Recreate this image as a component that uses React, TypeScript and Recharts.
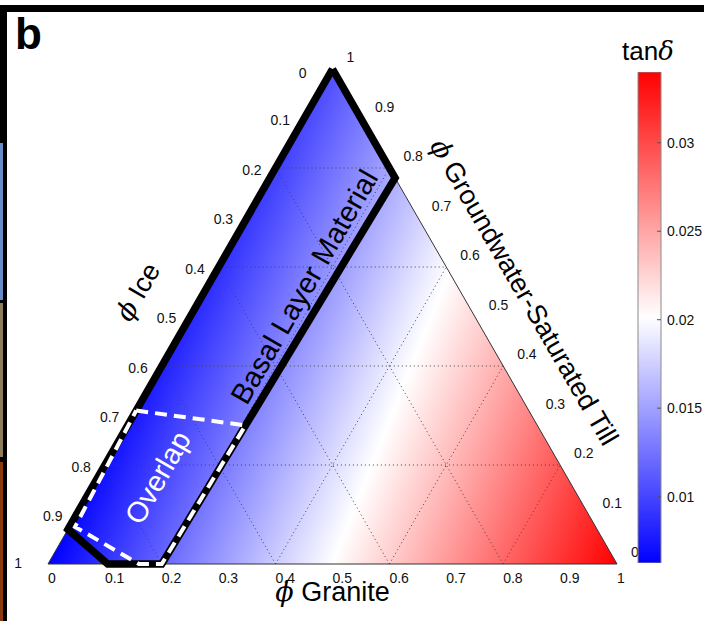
import React from "react";
import { ComposedChart, Area, Line, Scatter, XAxis, YAxis, BarChart, Bar } from "recharts";

// compositions are [ice, granite, till] volume fractions
type Comp = [number, number, number];

const tickValues = [0, 0.1, 0.2, 0.3, 0.4, 0.5, 0.6, 0.7, 0.8, 0.9, 1];
const gridLevels = [0.2, 0.4, 0.6, 0.8];

// tan(delta) of the pure end members: ice, granite, groundwater-saturated till
const endMemberTanDelta = [0.00625, 0.034, 0.0105];

const cbarRange: [number, number] = [0.00625, 0.034];
const cbarTicks = [0.01, 0.015, 0.02, 0.025, 0.03];

const triangle: Comp[] = [[1, 0, 0], [0, 0, 1], [0, 1, 0]];
const basalRegion: Comp[] = [
  [0, 0, 1],
  [0, 0.22, 0.78],
  [0.8, 0.2, 0],
  [0.895, 0.105, 0],
  [0.93, 0, 0.07],
  [0, 0, 1],
];
const overlapRegion: Comp[] = [
  [0.69, 0, 0.31],
  [0.513, 0.207, 0.28],
  [0.8, 0.2, 0],
  [0.84, 0.16, 0],
  [0.915, 0.01, 0.075],
  [0.69, 0, 0.31],
];
const basalLabel: Comp = [0.27, 0.17, 0.56];
const overlapLabel: Comp = [0.72, 0.105, 0.175];

const toXY = (c: Comp) => ({ x: c[1] + c[2] / 2, t: c[2] });

const SANS = "'Liberation Sans', Arial, Helvetica, sans-serif";
const SERIF = "'DejaVu Serif', serif";

// linear mixing field -> gradient vector in the triangle's bounding box
const [vi, vg, vt] = endMemberTanDelta;
const ga = vg - vi;
const gb = (vi + vg) / 2 - vt;
const gv0 = vt - (vg - vi) / 2;
const gn = ga * ga + gb * gb;
const fieldX1 = (ga * (cbarRange[0] - gv0)) / gn;
const fieldY1 = (gb * (cbarRange[0] - gv0)) / gn;
const fieldX2 = (ga * (cbarRange[1] - gv0)) / gn;
const fieldY2 = (gb * (cbarRange[1] - gv0)) / gn;

const gridLines: Comp[][] = gridLevels.flatMap((k) => [
  [[1 - k, 0, k], [0, 1 - k, k]] as Comp[],
  [[1 - k, k, 0], [0, k, 1 - k]] as Comp[],
  [[k, 1 - k, 0], [k, 0, 1 - k]] as Comp[],
]);

const bottomTicks = tickValues.map((v) => ({ ...toXY([1 - v, v, 0]), v }));
const leftTicks = tickValues.map((v) => ({ ...toXY([v, 0, 1 - v]), v }));
const rightTicks = tickValues.map((v) => ({ ...toXY([0, 1 - v, v]), v }));

const tickStyle = { fontFamily: SANS, fontSize: 14, fill: "#111" };
const titleStyle = { fontFamily: SANS, fontSize: 27, fill: "#000" };

const Phi = () => (
  <tspan fontFamily={SERIF} fontStyle="italic" fontWeight={300}>
    {"\u03D5"}
  </tspan>
);

const CbarTick = (props: any) => {
  const { x, y, payload } = props;
  const ax = x - 8;
  return (
    <g>
      <line x1={ax - 4} y1={y} x2={ax} y2={y} stroke="#555" strokeWidth={1} />
      <text x={ax + 6} y={y} dy="0.35em" {...tickStyle}>
        {payload.value}
      </text>
    </g>
  );
};

export default function App() {
  return (
    <div style={{ position: "fixed", left: 0, top: 0, width: 704, height: 621, background: "#fff", overflow: "hidden" }}>
      <div style={{ position: "absolute", left: 0, top: 5, width: 704, height: 7, background: "#000" }} />
      <div style={{ position: "absolute", left: 0, top: 5, width: 7, height: 616, background: "#000" }} />
      <div style={{ position: "absolute", left: 0, top: 143, width: 3, height: 157, background: "#6a8ac6" }} />
      <div style={{ position: "absolute", left: 0, top: 303, width: 3, height: 154, background: "#8b7d5c" }} />
      <div style={{ position: "absolute", left: 0, top: 462, width: 3, height: 159, background: "#8b3a0c" }} />
      <div style={{ position: "absolute", left: 15, top: 8, fontFamily: SANS, fontWeight: "bold", fontSize: 44, lineHeight: "52px" }}>b</div>

      <div style={{ position: "absolute", left: 0, top: 0 }}>
        <ComposedChart width={704} height={621} margin={{ top: 69, right: 87, bottom: 57, left: 48 }}>
          <defs>
            <linearGradient id="field" x1={fieldX1} y1={fieldY1} x2={fieldX2} y2={fieldY2}>
              <stop offset="0" stopColor="#0000ff" />
              <stop offset="0.5" stopColor="#ffffff" />
              <stop offset="1" stopColor="#ff0000" />
            </linearGradient>
          </defs>
          <XAxis type="number" dataKey="x" domain={[0, 1]} hide />
          <YAxis type="number" dataKey="t" domain={[0, 1]} hide />
          <Area
            data={triangle.map(toXY)}
            dataKey="t"
            type="linear"
            fill="url(#field)"
            fillOpacity={1}
            stroke="none"
            isAnimationActive={false}
          />
          {gridLines.map((seg, i) => (
            <Line
              key={"g" + i}
              data={seg.map(toXY)}
              dataKey="t"
              type="linear"
              stroke="#444"
              strokeWidth={1}
              strokeDasharray="1 3"
              dot={false}
              activeDot={false}
              isAnimationActive={false}
            />
          ))}
          <Line
            data={[...triangle, triangle[0]].map(toXY)}
            dataKey="t"
            type="linear"
            stroke="#333"
            strokeWidth={1}
            dot={false}
            activeDot={false}
            isAnimationActive={false}
          />
          <Line
            data={basalRegion.map(toXY)}
            dataKey="t"
            type="linear"
            stroke="#000"
            strokeWidth={7.5}
            strokeLinejoin="miter"
            dot={false}
            activeDot={false}
            isAnimationActive={false}
          />
          <Line
            data={overlapRegion.map(toXY)}
            dataKey="t"
            type="linear"
            stroke="#fff"
            strokeWidth={4}
            strokeDasharray="12 7"
            dot={false}
            activeDot={false}
            isAnimationActive={false}
          />
          <Scatter
            data={bottomTicks}
            isAnimationActive={false}
            shape={(p: any) => (
              <text x={p.cx} y={p.cy + 14} dy="0.35em" textAnchor="start" {...tickStyle}>
                {String(p.payload.v)}
              </text>
            )}
          />
          <Scatter
            data={leftTicks}
            isAnimationActive={false}
            shape={(p: any) => {
              const v = p.payload.v;
              const end = v === 0 || v === 1;
              return (
                <text x={p.cx - (end ? 26 : 14)} y={p.cy + (v === 0 ? 4 : v === 1 ? -1 : 2)} dy="0.35em" textAnchor="end" {...tickStyle}>
                  {String(v)}
                </text>
              );
            }}
          />
          <Scatter
            data={rightTicks}
            isAnimationActive={false}
            shape={(p: any) => (
              <text x={p.cx + 14} y={p.cy - 11.5} dy="0.35em" textAnchor="start" {...tickStyle}>
                {String(p.payload.v)}
              </text>
            )}
          />
          <Scatter
            data={[toXY([0.5, 0.5, 0])]}
            isAnimationActive={false}
            shape={(p: any) => (
              <text x={p.cx} y={p.cy + 37} textAnchor="middle" {...titleStyle}>
                <Phi /> Granite
              </text>
            )}
          />
          <Scatter
            data={[toXY([0.45, 0, 0.55])]}
            isAnimationActive={false}
            shape={(p: any) => {
              const x = p.cx - 67;
              return (
                <text x={x} y={p.cy} dy="0.35em" textAnchor="middle" transform={`rotate(-60 ${x} ${p.cy})`} {...titleStyle}>
                  <Phi /> Ice
                </text>
              );
            }}
          />
          <Scatter
            data={[toXY([0, 0.45, 0.55])]}
            isAnimationActive={false}
            shape={(p: any) => {
              const x = p.cx + 64;
              return (
                <text x={x} y={p.cy} dy="0.35em" textAnchor="middle" transform={`rotate(60 ${x} ${p.cy})`} {...titleStyle}>
                  <Phi /> Groundwater-Saturated Till
                </text>
              );
            }}
          />
          <Scatter
            data={[toXY(basalLabel)]}
            isAnimationActive={false}
            shape={(p: any) => (
              <text x={p.cx} y={p.cy} dy="0.35em" textAnchor="middle" transform={`rotate(-60 ${p.cx} ${p.cy})`} fontFamily={SANS} fontSize={29} fill="#000">
                Basal Layer Material
              </text>
            )}
          />
          <Scatter
            data={[toXY(overlapLabel)]}
            isAnimationActive={false}
            shape={(p: any) => (
              <text x={p.cx} y={p.cy} dy="0.35em" textAnchor="middle" transform={`rotate(-60 ${p.cx} ${p.cy})`} fontFamily={SANS} fontSize={29} fill="#fff">
                Overlap
              </text>
            )}
          />
        </ComposedChart>
      </div>

      <div style={{ position: "absolute", left: 622, top: 36, fontFamily: SANS, fontSize: 26, lineHeight: "30px" }}>
        tan<span style={{ fontFamily: SERIF, fontStyle: "italic" }}>{"\u03B4"}</span>
      </div>
      <div style={{ position: "absolute", left: 630, top: 60 }}>
        <BarChart width={74} height={520} data={[{ name: "tan", range: cbarRange }]} margin={{ top: 12, right: 0, bottom: 17, left: 8 }} barCategoryGap={0}>
          <defs>
            <linearGradient id="cmap" x1="0" y1="1" x2="0" y2="0">
              <stop offset="0" stopColor="#0000ff" />
              <stop offset="0.5" stopColor="#ffffff" />
              <stop offset="1" stopColor="#ff0000" />
            </linearGradient>
          </defs>
          <XAxis dataKey="name" hide />
          <YAxis
            orientation="right"
            type="number"
            domain={cbarRange}
            ticks={cbarTicks}
            width={43}
            axisLine={false}
            tickLine={false}
            tickSize={6}
            tickMargin={2}
            tick={<CbarTick />}
            allowDataOverflow
          />
          <Bar dataKey="range" fill="url(#cmap)" stroke="#8a8a8a" strokeWidth={1} isAnimationActive={false} />
        </BarChart>
      </div>
    </div>
  );
}
